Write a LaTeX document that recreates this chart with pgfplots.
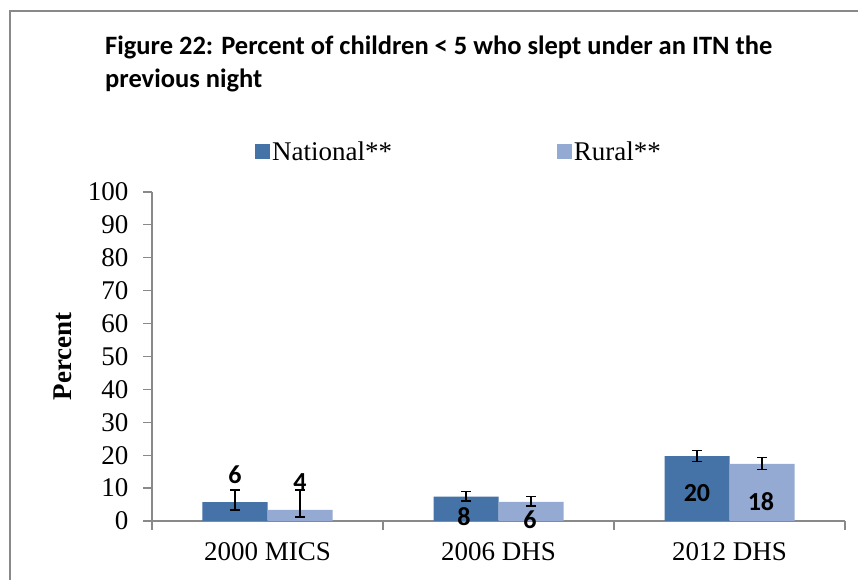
\documentclass[border=0pt]{standalone}
\usepackage{pgfplots}
\pgfplotsset{compat=1.18}
\usepackage{fontspec}
\setmainfont{Liberation Serif}
\newfontfamily\titlefont{Carlito}
\definecolor{nat}{RGB}{69,114,167}
\definecolor{rur}{RGB}{149,170,210}
\definecolor{axgray}{RGB}{137,137,137}
\begin{document}
\begin{tikzpicture}
\useasboundingbox (0pt,0pt) rectangle (858pt,580pt);
\draw[axgray, line width=1.2pt] (10pt,-5pt) -- (10pt,569pt) -- (865pt,569pt);
\node[anchor=base west, align=left, inner sep=0pt, font=\titlefont\bfseries\fontsize{26.5}{33}\selectfont] at (105pt,492pt) {Figure 22: Percent of children < 5 who slept under an ITN the\\previous night};
\begin{axis}[
  at={(152pt,59pt)}, anchor=south west,
  scale only axis, width=693pt, height=329pt,
  xmin=0, xmax=3, ymin=0, ymax=100,
  clip=false,
  axis lines=left, axis line style={-, axgray, line width=1.2pt},
  ybar=0pt, bar width=0.2814,
  xtick={0.5,1.5,2.5}, xticklabels={2000 MICS,2006 DHS,2012 DHS},
  minor xtick={0,1,2,3},
  ytick={0,10,...,100},
  tick align=outside, major x tick style={draw=none},
  major tick length=9pt, minor tick length=9pt,
  tick style={axgray, line width=1.2pt},
  /pgf/number format/assume math mode=true,
  ticklabel style={font=\fontsize{27}{30}\selectfont, text=black},
  xticklabel style={yshift=-9pt},
  yticklabel style={xshift=-11pt},
  ylabel={Percent},
  ylabel style={at={(rel axis cs:-0.1284,0.5)}, anchor=center, font=\bfseries\fontsize{27}{30}\selectfont},
  legend columns=2,
  legend style={draw=none, fill=none, at={(rel axis cs:0.443,1.122)}, anchor=center,
    font=\fontsize{27}{30}\selectfont, /tikz/every even column/.append style={column sep=163pt},
    inner sep=0pt},
  legend image code/.code={\fill[#1,draw=none] (0pt,-7.5pt) rectangle (15pt,7.5pt);},
  error bars/error bar style={black, line width=1.4pt},
  error bars/error mark options={rotate=90, mark size=5pt, black, line width=1.4pt},
]
\addplot[fill=nat, draw=none, error bars/.cd, y dir=both, y explicit] coordinates {
  (0.5,5.7) += (0,3.7) -= (0,2.4)
  (1.5,7.4) += (0,1.6) -= (0,1.3)
  (2.5,19.7) += (0,1.7) -= (0,1.6)
};
\addplot[fill=rur, draw=none, error bars/.cd, y dir=both, y explicit] coordinates {
  (0.5,3.4) += (0,6.0) -= (0,2.2)
  (1.5,5.8) += (0,1.7) -= (0,1.2)
  (2.5,17.4) += (0,1.9) -= (0,1.8)
};
\legend{National**,Rural**}
\begin{scope}[every node/.style={font=\titlefont\bfseries\fontsize{26}{28}\selectfont}]
\node at (axis cs:0.359,14.0) {6};
\node at (axis cs:0.641,11.9) {4};
\node at (axis cs:1.351,1.2) {8};
\node at (axis cs:1.636,0.3) {6};
\node at (axis cs:2.359,8.5) {20};
\node at (axis cs:2.636,5.8) {18};
\end{scope}
\end{axis}
\end{tikzpicture}
\end{document}
